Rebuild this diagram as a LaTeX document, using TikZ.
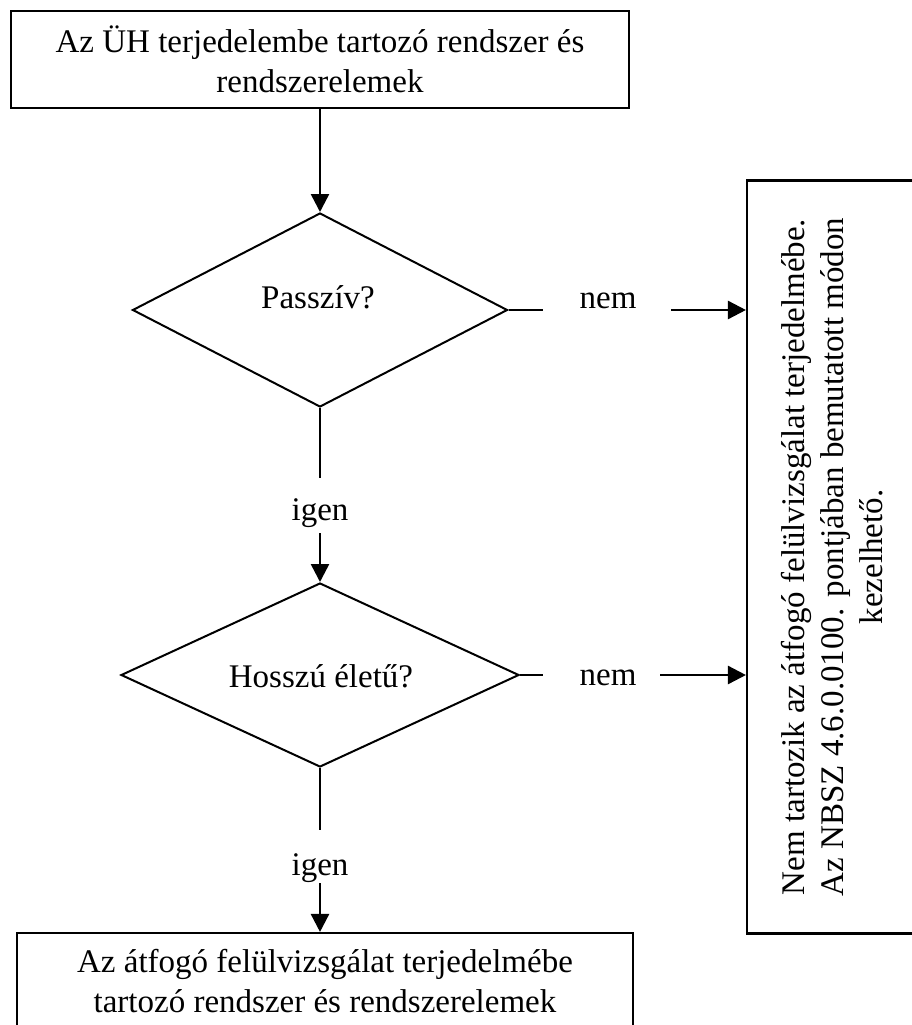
\documentclass[tikz,border=0pt]{standalone}
\usepackage{fontspec}
\setmainfont{Liberation Serif}
\usepackage{graphicx}
\usetikzlibrary{shapes.geometric,arrows.meta}
\begin{document}
\begin{tikzpicture}[x=1pt,y=-1pt,
  box/.style={draw, line width=2.1pt, rectangle, inner sep=0pt, align=center, font=\fontsize{33}{40}\selectfont},
  dia/.style={draw, line width=2pt, diamond, inner sep=0pt},
  lbl/.style={inner sep=0pt, anchor=base, font=\fontsize{33}{40}\selectfont},
  conn/.style={line width=2pt},
  arr/.style={line width=2.5pt, -{Triangle[length=18pt,width=18pt]}}]
\useasboundingbox (0,0) rectangle (912,1025);
\clip (0,0) rectangle (912,1025);

\node[box, minimum width=618, minimum height=97] (top) at (320,59.5) {Az ÜH terjedelembe tartozó rendszer és\\rendszerelemek};
\node[dia, minimum width=375, minimum height=194] (d1) at (320,310) {};
\node[lbl] (t1) at (318,308) {Passzív?};
\node[dia, minimum width=398, minimum height=184] (d2) at (320,675) {};
\node[lbl] (t2) at (321,687) {Hosszú életű?};
\node[box, minimum width=178, minimum height=753, font=\fontsize{33}{39}\selectfont] (rb) at (836,557)
  {\rotatebox{90}{\begin{tabular}{@{}c@{}}Nem tartozik az átfogó felülvizsgálat terjedelmébe.\\Az NBSZ 4.6.0.0100. pontjában bemutatott módon\\kezelhető.\end{tabular}}};
\node[box, minimum width=616, minimum height=97] (bot) at (325,981.5) {Az átfogó felülvizsgálat terjedelmébe\\tartozó rendszer és rendszerelemek};

\node[lbl] (nem1) at (608,308) {nem};
\node[lbl] (nem2) at (608,685) {nem};
\node[lbl] (igen1) at (320,520) {igen};
\node[lbl] (igen2) at (320,875) {igen};

\coordinate (a1) at (543,310);
\coordinate (b1) at (671,310);
\coordinate (a2) at (543,675);
\coordinate (b2) at (660,675);
\coordinate (c1) at (320,478);
\coordinate (c2) at (320,533);
\coordinate (c3) at (320,830);
\coordinate (c4) at (320,883);

\draw[arr] (top.south) -- (d1.north);
\draw[conn] (d1.east) -- (a1);
\draw[arr] (b1) -- (b1 -| rb.west);
\draw[conn] (d1.south) -- (c1);
\draw[arr] (c2) -- (d2.north);
\draw[conn] (d2.east) -- (a2);
\draw[arr] (b2) -- (b2 -| rb.west);
\draw[conn] (d2.south) -- (c3);
\draw[arr] (c4) -- (c4 |- bot.north);
\end{tikzpicture}
\end{document}
